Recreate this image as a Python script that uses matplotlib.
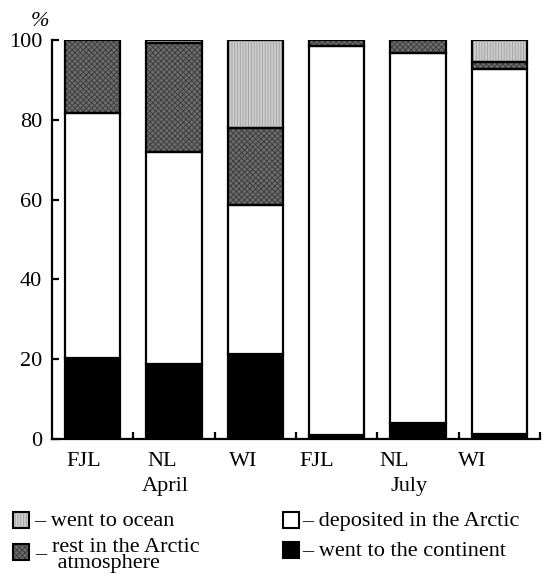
import matplotlib
matplotlib.use("Agg")
import matplotlib.pyplot as plt
from matplotlib.patches import Rectangle
import numpy as np

plt.rcParams['font.family'] = ['Liberation Serif', 'DejaVu Serif']
plt.rcParams['hatch.linewidth'] = 0.6

# Data: share (%) of pollutant mass by fate, per source region and month
regions = ["FJL", "NL", "WI", "FJL", "NL", "WI"]
months = ["April", "July"]
continent = [20.2, 18.7, 21.4, 1.0, 4.1, 1.2]
deposited = [61.6, 53.3, 37.2, 97.6, 92.7, 91.5]
rest_atm = [18.2, 27.2, 19.4, 1.4, 3.2, 1.7]
ocean = [0.0, 0.8, 22.0, 0.0, 0.0, 5.6]
yticks = [0, 20, 40, 60, 80, 100]

FS = 16
W, H = 545, 575
fig = plt.figure(figsize=(W / 100, H / 100), dpi=100)

def fx(px):
    return px / W

def fy(py):
    return 1 - py / H

ax = fig.add_axes([fx(52), fy(439), fx(540) - fx(52), fy(40) - fy(439)])

x = np.arange(len(regions))
bw = 0.68

OCEAN_FC, OCEAN_HC = "#cccccc", "#a0a0a0"
REST_FC, REST_HC = "#6c6c6c", "#3a3a3a"

def hatched_bar(xs, h, b, fc, hc, hatch):
    # fill + hatch drawn in its own colour, outline drawn separately in black
    ax.bar(xs, h, bw, bottom=b, color=fc, edgecolor=hc, hatch=hatch,
           linewidth=0, zorder=2)
    ax.bar(xs, h, bw, bottom=b, fill=False, edgecolor="black",
           linewidth=1.6, zorder=3)

b0 = np.zeros(len(x))
ax.bar(x, continent, bw, bottom=b0, color="black", edgecolor="black",
       linewidth=1.6, zorder=3)
b1 = b0 + np.array(continent)
ax.bar(x, deposited, bw, bottom=b1, color="white", edgecolor="black",
       linewidth=1.6, zorder=3)
b2 = b1 + np.array(deposited)
hatched_bar(x, rest_atm, b2, REST_FC, REST_HC, "xxxxxx")
b3 = b2 + np.array(rest_atm)
ocean_mask = np.array(ocean) > 0
hatched_bar(x[ocean_mask], np.array(ocean)[ocean_mask], b3[ocean_mask],
            OCEAN_FC, OCEAN_HC, "||||||")

ax.set_xlim(-0.5, 5.5)
ax.set_ylim(0, 100)
for s in ["top", "right"]:
    ax.spines[s].set_visible(False)
ax.spines["left"].set_linewidth(1.6)
ax.spines["bottom"].set_linewidth(1.6)

ax.set_yticks(yticks)
ax.set_yticklabels([str(v) for v in yticks], fontsize=FS)
ax.tick_params(axis="y", direction="in", length=5, width=1.6, pad=7)
ax.set_xticks(np.arange(0.5, 6, 1.0))
ax.set_xticklabels([])
ax.tick_params(axis="x", direction="in", length=5, width=1.6)

# category and month labels under the axis
label_px = [84, 162, 243, 317, 394, 472]
for name, px in zip(regions, label_px):
    fig.text(fx(px), fy(462), name, ha="center", va="center", fontsize=FS)
fig.text(fx(165), fy(487), months[0], ha="center", va="center", fontsize=FS)
fig.text(fx(409), fy(487), months[1], ha="center", va="center", fontsize=FS)

fig.text(fx(40), fy(22), "%", ha="center", va="center", fontsize=FS,
         style="italic")

# legend drawn by hand
def swatch(px, py, fc, hc=None, hatch=None):
    s = 16
    if hatch:
        fig.add_artist(Rectangle((fx(px), fy(py + s / 2)), fx(s), s / H,
                                 facecolor=fc, edgecolor=hc, hatch=hatch,
                                 linewidth=0, transform=fig.transFigure))
    else:
        fig.add_artist(Rectangle((fx(px), fy(py + s / 2)), fx(s), s / H,
                                 facecolor=fc, edgecolor="none",
                                 transform=fig.transFigure))
    fig.add_artist(Rectangle((fx(px), fy(py + s / 2)), fx(s), s / H,
                             fill=False, edgecolor="black", linewidth=1.5,
                             transform=fig.transFigure))

swatch(13, 520, OCEAN_FC, OCEAN_HC, "||||||")
fig.text(fx(34), fy(526), "– went to ocean", ha="left", va="baseline",
         fontsize=FS)
swatch(13, 552, REST_FC, REST_HC, "xxxxxx")
fig.text(fx(35), fy(559), "–", ha="left", va="baseline", fontsize=FS)
fig.text(fx(52), fy(538), "rest in the Arctic\n atmosphere", ha="left",
         va="top", multialignment="left", linespacing=0.8, fontsize=FS)

swatch(283, 520, "white")
fig.text(fx(302), fy(526), "– deposited in the Arctic", ha="left",
         va="baseline", fontsize=FS)
swatch(283, 550, "black")
fig.text(fx(302), fy(556), "– went to the continent", ha="left",
         va="baseline", fontsize=FS)

fig.savefig("out.png", dpi=100)
